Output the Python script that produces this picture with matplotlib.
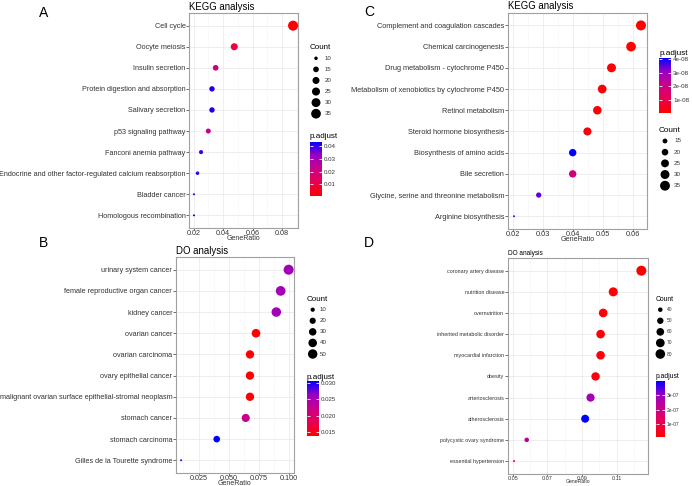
import numpy as np
import matplotlib
matplotlib.use('Agg')
import matplotlib.pyplot as plt
from matplotlib.colors import LinearSegmentedColormap, Normalize

plt.rcParams['font.family'] = ['Liberation Sans', 'DejaVu Sans']

# ---- data (top to bottom as shown) ----
kegg_a_terms = ['Cell cycle', 'Oocyte meiosis', 'Insulin secretion',
                'Protein digestion and absorption', 'Salivary secretion',
                'p53 signaling pathway', 'Fanconi anemia pathway',
                'Endocrine and other factor-regulated calcium reabsorption',
                'Bladder cancer', 'Homologous recombination']
kegg_a_ratio = [0.0874, 0.0476, 0.0350, 0.0325, 0.0325, 0.0300, 0.0251, 0.0227, 0.0203, 0.0203]
kegg_a_count = [37, 20, 15, 14, 14, 13, 11, 10, 9, 9]
kegg_a_padj = [0.0011, 0.0095, 0.0220, 0.0413, 0.0413, 0.0240, 0.0390, 0.0400, 0.0434, 0.0434]

do_b_terms = ['urinary system cancer', 'female reproductive organ cancer', 'kidney cancer',
              'ovarian cancer', 'ovarian carcinoma', 'ovary epithelial cancer',
              'malignant ovarian surface epithelial-stromal neoplasm', 'stomach cancer',
              'stomach carcinoma', 'Gilles de la Tourette syndrome']
do_b_ratio = [0.0995, 0.0929, 0.0893, 0.0725, 0.0675, 0.0675, 0.0675, 0.0640, 0.0400, 0.0105]
do_b_count = [57, 53, 51, 41, 38, 38, 38, 36, 23, 6]
do_b_padj = [0.0255, 0.0255, 0.0255, 0.0138, 0.0137, 0.0137, 0.0138, 0.0221, 0.0305, 0.0288]

kegg_c_terms = ['Complement and coagulation cascades', 'Chemical carcinogenesis',
                'Drug metabolism - cytochrome P450', 'Metabolism of xenobiotics by cytochrome P450',
                'Retinol metabolism', 'Steroid hormone biosynthesis', 'Biosynthesis of amino acids',
                'Bile secretion', 'Glycine, serine and threonine metabolism', 'Arginine biosynthesis']
kegg_c_ratio = [0.0625, 0.0592, 0.0527, 0.0496, 0.0480, 0.0447, 0.0398, 0.0398, 0.0285, 0.0203]
kegg_c_count = [36, 34, 30, 29, 28, 26, 23, 23, 16, 12]
kegg_c_padj = [7e-10, 8e-10, 1.2e-9, 1.5e-9, 1.6e-9, 2.5e-9, 4.1e-8, 1.9e-8, 3.5e-8, 3.6e-8]

do_d_terms = ['coronary artery disease', 'nutrition disease', 'overnutrition',
              'inherited metabolic disorder', 'myocardial infarction', 'obesity',
              'arteriosclerosis', 'atherosclerosis', 'polycystic ovary syndrome',
              'essential hypertension']
do_d_ratio = [0.1242, 0.1080, 0.1022, 0.1007, 0.1007, 0.0978, 0.0949, 0.0918, 0.0581, 0.0508]
do_d_count = [85, 74, 70, 69, 69, 67, 65, 63, 40, 35]
do_d_padj = [1e-8, 1.5e-8, 2e-8, 2e-8, 2.5e-8, 3e-8, 2.8e-7, 4.0e-7, 2.4e-7, 5e-8]

a_xticks = [0.02, 0.04, 0.06, 0.08]
a_xlabels = ['0.02', '0.04', '0.06', '0.08']
b_xticks = [0.025, 0.050, 0.075, 0.100]
b_xlabels = ['0.025', '0.050', '0.075', '0.100']
c_xticks = [0.02, 0.03, 0.04, 0.05, 0.06]
c_xlabels = ['0.02', '0.03', '0.04', '0.05', '0.06']
d_xticks = [0.05, 0.07, 0.09, 0.11]
d_xlabels = ['0.05', '0.07', '0.09', '0.11']

a_count_breaks = [10, 15, 20, 25, 30, 35]
b_count_breaks = [10, 20, 30, 40, 50]
c_count_breaks = [15, 20, 25, 30, 35]
d_count_breaks = [40, 50, 60, 70, 80]

a_padj_ticks = [0.01, 0.02, 0.03, 0.04]
a_padj_labels = ['0.01', '0.02', '0.03', '0.04']
b_padj_ticks = [0.015, 0.020, 0.025, 0.030]
b_padj_labels = ['0.015', '0.020', '0.025', '0.030']
c_padj_ticks = [1e-8, 2e-8, 3e-8, 4e-8]
c_padj_labels = ['1e-08', '2e-08', '3e-08', '4e-08']
d_padj_ticks = [1e-7, 2e-7, 3e-7]
d_padj_labels = ['1e-07', '2e-07', '3e-07']

# red -> blue, roughly as ggplot blends it (through Lab)
cmap = LinearSegmentedColormap.from_list(
    'padj', ['#FF0000', '#E80050', '#CA0088', '#9A00C3', '#0000FF'])

W, H = 692, 486
fig = plt.figure(figsize=(W / 100, H / 100), dpi=100)


def box(l, t, r, b):
    return [l / W, 1 - b / H, (r - l) / W, (b - t) / H]


def diam(c, cmin, cmax):
    c = np.asarray(c, dtype=float)
    f = np.clip((c - cmin) / (cmax - cmin), 0, 1)
    return (2 + 8 * np.sqrt(f)) * 0.72  # points


def panel(axbox, terms, ratio, count, padj, title, letter, xticks, xlabels,
          breaks, pticks, plabels, lay, fs, tfs, lfs):
    ax = fig.add_axes(box(*axbox))
    n = len(terms)
    y = np.arange(n)
    cmin, cmax = min(count), max(count)
    norm = Normalize(min(padj), max(padj))
    sc = ax.scatter(ratio, y, s=diam(count, cmin, cmax) ** 2, c=padj, cmap=cmap,
                    norm=norm, linewidths=0, zorder=3)
    ax.set_ylim(n - 0.4, -0.6)
    ax.set_yticks(y)
    ax.set_yticklabels(terms, fontsize=fs, color='#333333')
    ax.set_xticks(xticks)
    ax.set_xticklabels(xlabels, fontsize=fs, color='#333333')
    step = xticks[1] - xticks[0]
    minor = np.concatenate([[xticks[0] - step / 2], np.array(xticks) + step / 2])
    ax.set_xticks(minor, minor=True)
    # ggplot style 5% expansion of the data range
    lo, hi = min(ratio), max(ratio)
    pad = 0.05 * (hi - lo)
    ax.set_xlim(lo - pad, hi + pad)
    ax.tick_params(axis='x', colors='#333333', length=1.5, width=0.5, pad=0)
    ax.tick_params(axis='x', which='minor', length=0)
    ax.tick_params(axis='y', length=2, width=0.5, colors='#333333', pad=0.5)
    ax.grid(which='major', color='#EBEBEB', linewidth=0.6)
    ax.grid(which='minor', axis='x', color='#F5F5F5', linewidth=0.4)
    ax.set_axisbelow(True)
    for s in ax.spines.values():
        s.set_color('#A0A0A0')
        s.set_linewidth(0.8)
    ax.set_title(title, loc='left', fontsize=tfs, pad=2.5)
    ax.set_xlabel('GeneRatio', fontsize=fs - 0.2, labelpad=-1.5, color='#333333')
    lx, ly = lay['letter']
    fig.text(lx / W, 1 - ly / H, letter, fontsize=10, ha='center', va='center')

    # size legend
    tx, ty = lay['count_title']
    fig.text(tx / W, 1 - ty / H, 'Count', fontsize=lfs + 1.4, va='center')
    dx, lbx, y0, y1 = lay['count_items']
    m = len(breaks)
    stp = (y1 - y0) / (m - 1)
    lax = fig.add_axes(box(dx - 6, y0 - stp / 2, dx + 6, y1 + stp / 2))
    lax.scatter(np.zeros(m), np.arange(m), s=diam(breaks, cmin, cmax) ** 2, c='black',
                linewidths=0)
    lax.set_xlim(-1, 1)
    lax.set_ylim(m - 0.5, -0.5)
    for i, b in enumerate(breaks):
        lax.text((lbx - dx) / 6, i, str(b), fontsize=lfs, va='center', ha='left',
                 color='#333333')
    lax.axis('off')

    # colour bar
    px, py = lay['padj_title']
    fig.text(px / W, 1 - py / H, 'p.adjust', fontsize=lfs + 1.4, va='center')
    cax = fig.add_axes(box(*lay['bar']))
    cb = fig.colorbar(sc, cax=cax)
    cb.outline.set_visible(False)
    cb.set_ticks(pticks)
    cb.set_ticklabels(plabels)
    cax.tick_params(length=2.2, width=0.6, color='white', direction='in',
                    labelsize=lfs, labelcolor='#333333', pad=1.5, left=True)
    return ax


panel((189, 13, 298, 228), kegg_a_terms, kegg_a_ratio, kegg_a_count, kegg_a_padj,
      'KEGG analysis', 'A', a_xticks, a_xlabels, a_count_breaks, a_padj_ticks, a_padj_labels,
      {'letter': (44, 13), 'count_title': (310, 47.7), 'count_items': (316, 325, 58.3, 113.7),
       'padj_title': (310, 136.7), 'bar': (310, 141.7, 321.7, 195.7)},
      5.2, 6.9, 4.4)

panel((175.7, 257, 294, 473), do_b_terms, do_b_ratio, do_b_count, do_b_padj,
      'DO analysis', 'B', b_xticks, b_xlabels, b_count_breaks, b_padj_ticks, b_padj_labels,
      {'letter': (44, 243), 'count_title': (306.7, 299), 'count_items': (312.7, 320, 309.7, 354),
       'padj_title': (307, 377.3), 'bar': (307, 381.3, 319, 436.3)},
      5.2, 6.9, 4.4)

panel((507.7, 12.7, 647.3, 229), kegg_c_terms, kegg_c_ratio, kegg_c_count, kegg_c_padj,
      'KEGG analysis', 'C', c_xticks, c_xlabels, c_count_breaks, c_padj_ticks, c_padj_labels,
      {'letter': (369, 11.5), 'count_title': (659, 131), 'count_items': (665, 674, 141, 185.7),
       'padj_title': (659.3, 53.3), 'bar': (659.3, 57.7, 671, 112.7)},
      5.3, 6.9, 4.5)

panel((507.7, 258, 647.7, 473.7), do_d_terms, do_d_ratio, do_d_count, do_d_padj,
      'DO analysis', 'D', d_xticks, d_xlabels, d_count_breaks, d_padj_ticks, d_padj_labels,
      {'letter': (369, 243), 'count_title': (656, 299), 'count_items': (660.3, 667, 309.7, 354),
       'padj_title': (656, 376.3), 'bar': (656, 381, 665, 436.7)},
      3.9, 4.7, 3.5)

fig.savefig('out.png', dpi=100)
